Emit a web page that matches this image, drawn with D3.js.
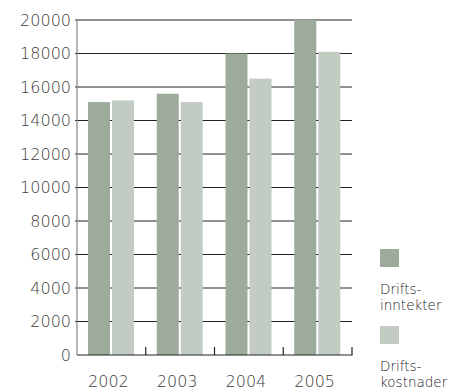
<!DOCTYPE html>
<html>
<head>
<meta charset="utf-8">
<script src="https://cdn.jsdelivr.net/npm/d3@7"></script>
<style>
  html, body { margin: 0; padding: 0; background: #fff; }
  svg { display: block; }
  text { font-family: "DejaVu Sans", sans-serif; fill: #3c3c3c; font-weight: 200; }
  .legend text { fill: #1a1a1a; }
</style>
</head>
<body>
<svg id="chart" width="454" height="390"></svg>
<script>
// Driftsinntekter / driftskostnader per år
const years = ["2002", "2003", "2004", "2005"];
const series = ["Driftsinntekter", "Driftskostnader"];
const inntekter = [15100, 15600, 18000, 20000];
const kostnader = [15200, 15100, 16500, 18100];
const yTicks = [0, 2000, 4000, 6000, 8000, 10000, 12000, 14000, 16000, 18000, 20000];
const legendLines = [["Drifts-", "inntekter"], ["Drifts-", "kostnader"]];

const colors = d3.scaleOrdinal().domain(series).range(["#9dab9c", "#c2ccc3"]);

const svg = d3.select("#chart");
const plotLeft = 77, plotRight = 352, plotTop = 20, plotBottom = 355;

const y = d3.scaleLinear().domain([0, 20000]).range([plotBottom, plotTop]);
const x0 = d3.scaleBand().domain(years).range([plotLeft, plotRight]).padding(0);
const x1 = d3.scaleBand().domain(series).range([11, 57]).paddingInner(1 / 12);

// gridlines
svg.append("g")
  .selectAll("line")
  .data(yTicks.filter(d => d > 0))
  .join("line")
  .attr("x1", plotLeft - 2).attr("x2", plotRight)
  .attr("y1", d => y(d)).attr("y2", d => y(d))
  .attr("stroke", "#222").attr("stroke-width", 1);

// y tick labels
svg.append("g")
  .selectAll("text")
  .data(yTicks)
  .join("text")
  .attr("x", 71)
  .attr("y", d => y(d))
  .attr("dy", "0.36em")
  .attr("text-anchor", "end")
  .attr("font-size", 16)
  .text(d => d);

// bars
const rows = years.map((yr, i) => ({ year: yr, values: [inntekter[i], kostnader[i]] }));
svg.append("g")
  .selectAll("g")
  .data(rows)
  .join("g")
  .attr("transform", d => `translate(${x0(d.year)},0)`)
  .selectAll("rect")
  .data(d => series.map((s, j) => ({ s, v: d.values[j] })))
  .join("rect")
  .attr("x", d => x1(d.s))
  .attr("width", x1.bandwidth())
  .attr("y", d => y(d.v))
  .attr("height", d => y(0) - y(d.v))
  .attr("fill", d => colors(d.s));

// vertical axis line
svg.append("line")
  .attr("x1", plotLeft).attr("x2", plotLeft)
  .attr("y1", plotTop).attr("y2", plotBottom)
  .attr("stroke", "#888").attr("stroke-width", 1.2);

// baseline
svg.append("line")
  .attr("x1", plotLeft).attr("x2", plotRight + 0.5)
  .attr("y1", plotBottom).attr("y2", plotBottom)
  .attr("stroke", "#222").attr("stroke-width", 1.2);

// category boundary ticks
svg.append("g")
  .selectAll("line")
  .data(years)
  .join("line")
  .attr("x1", d => x0(d) + x0.bandwidth())
  .attr("x2", d => x0(d) + x0.bandwidth())
  .attr("y1", plotBottom).attr("y2", plotBottom - 8)
  .attr("stroke", "#222").attr("stroke-width", 1.2);

// year labels
svg.append("g")
  .selectAll("text")
  .data(years)
  .join("text")
  .attr("x", d => x0(d) + x0.bandwidth() / 2 - 3)
  .attr("y", 387)
  .attr("text-anchor", "middle")
  .attr("font-size", 16)
  .text(d => d);

// legend
const legend = svg.append("g")
  .attr("class", "legend")
  .selectAll("g")
  .data(series)
  .join("g")
  .attr("transform", (d, i) => `translate(380,${249 + i * 77})`);
legend.append("rect")
  .attr("width", 19).attr("height", 18)
  .attr("fill", d => colors(d));
legend.each(function (d, i) {
  const g = d3.select(this);
  legendLines[i].forEach((t, k) => {
    g.append("text")
      .attr("x", 0)
      .attr("y", 45 + k * 16)
      .attr("font-size", 13.5)
      .text(t);
  });
});
</script>
</body>
</html>
